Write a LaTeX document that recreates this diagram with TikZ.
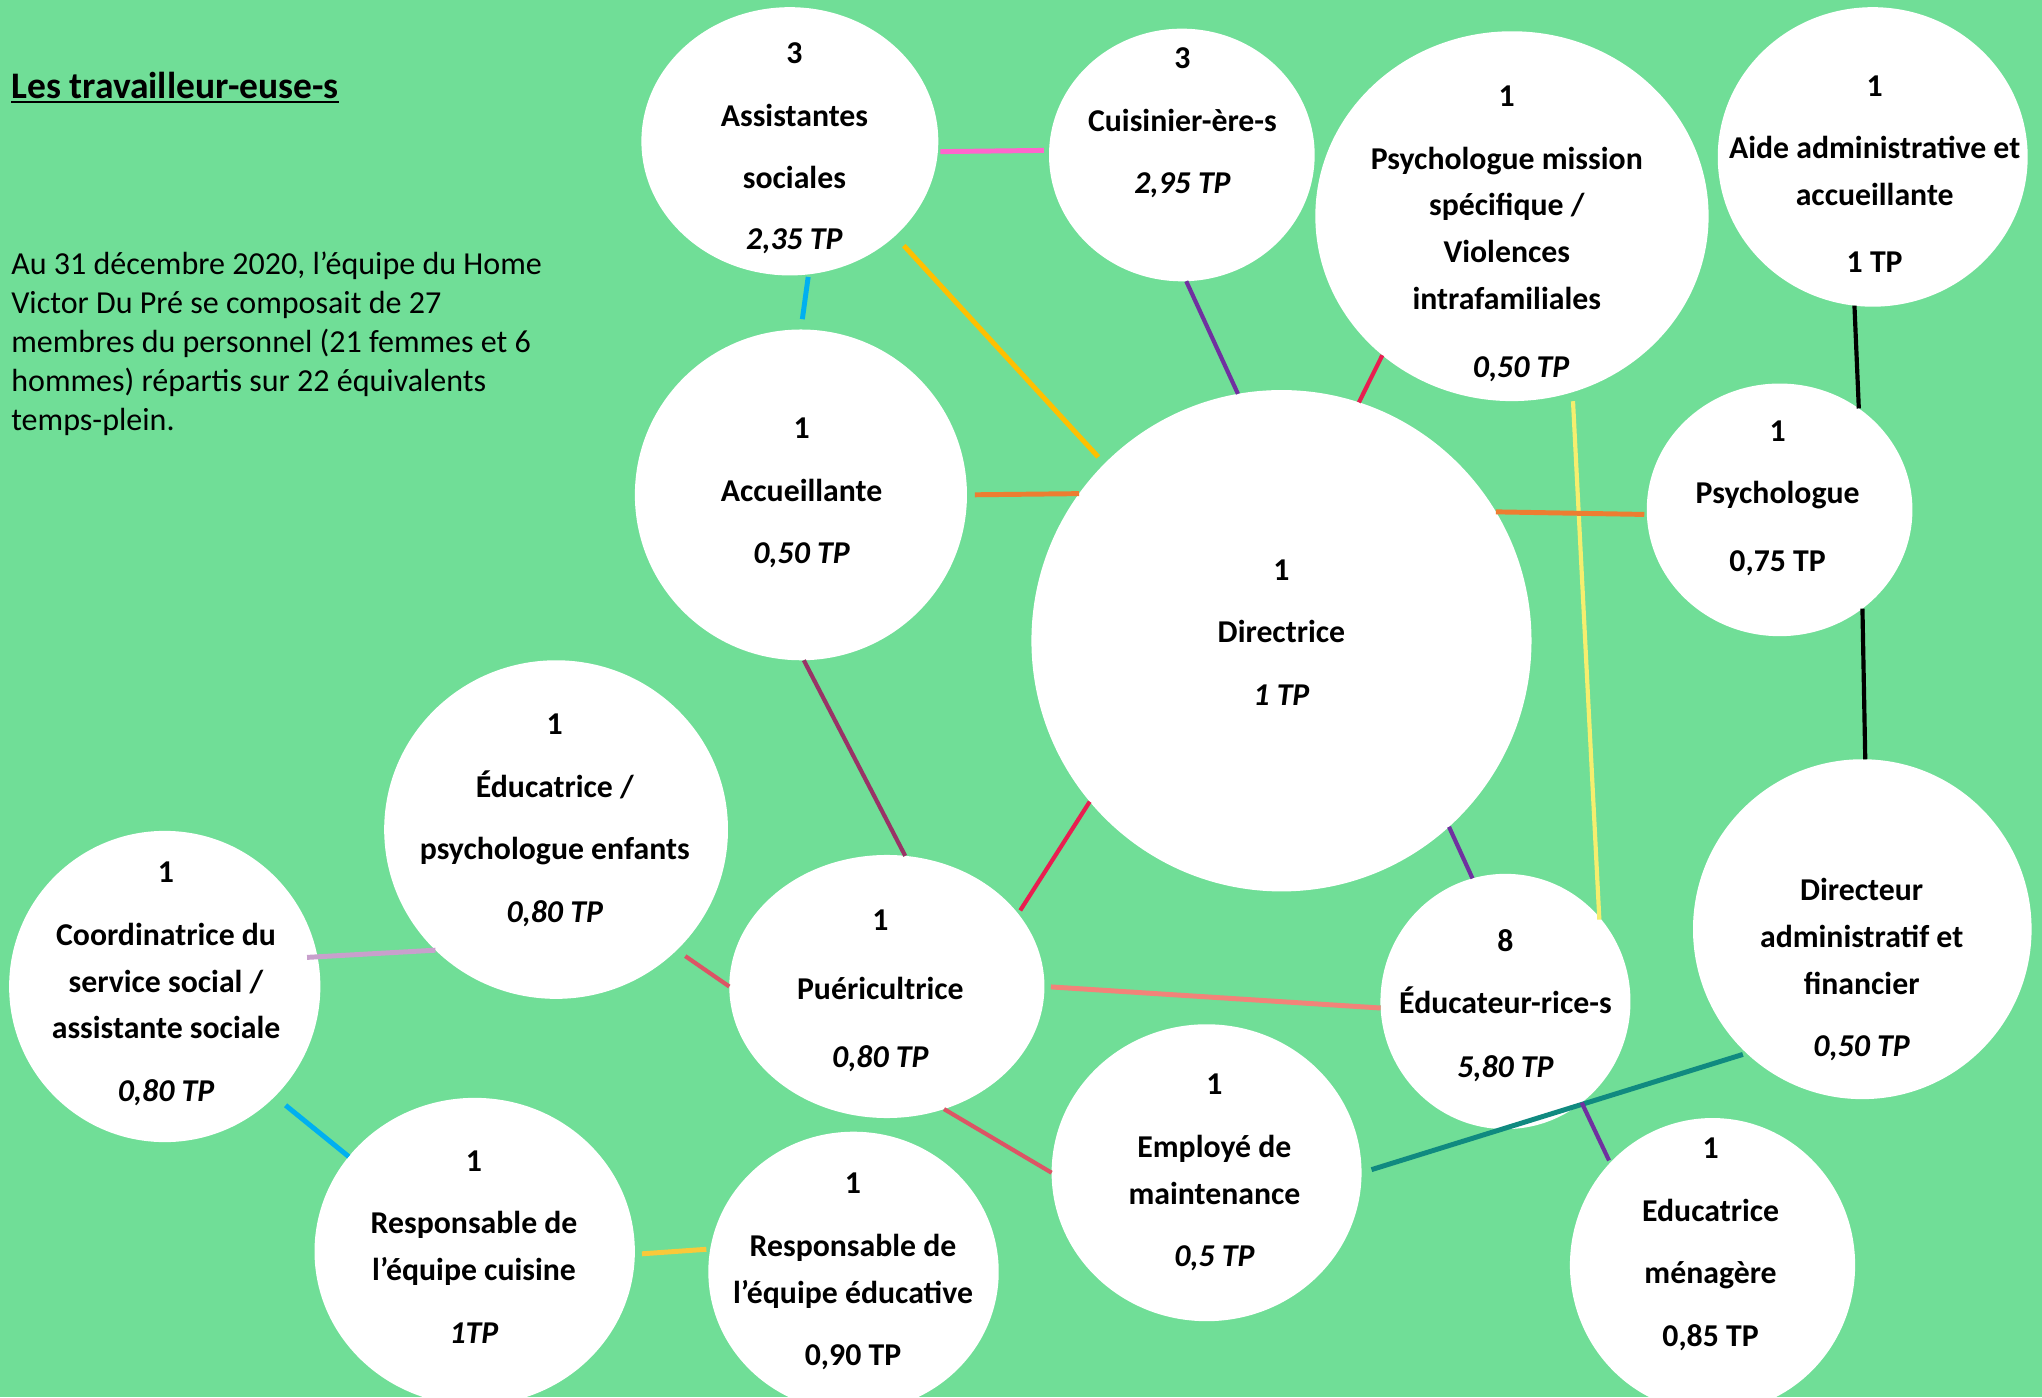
\documentclass[tikz,border=0pt]{standalone}
\usepackage{fontspec}
\setmainfont{Carlito}
\usetikzlibrary{shapes.geometric}

\definecolor{fond}{HTML}{70DE97}
\definecolor{rose}{HTML}{FF66CC}
\definecolor{bleu}{HTML}{00B0F0}
\definecolor{dore}{HTML}{FFC000}
\definecolor{dore2}{HTML}{F9C93A}
\definecolor{violet}{HTML}{7030A0}
\definecolor{cramoisi}{HTML}{E91E50}
\definecolor{orangef}{HTML}{ED7D31}
\definecolor{jaunepale}{HTML}{F5EE6E}
\definecolor{prune}{HTML}{993366}
\definecolor{saumon}{HTML}{F28379}
\definecolor{rouge}{HTML}{DC5565}
\definecolor{lilas}{HTML}{C8A0CC}
\definecolor{sarcelle}{HTML}{108A80}

\begin{document}
\begin{tikzpicture}[x=1pt, y=-1pt,
    bulle/.style = {ellipse, fill=white, inner sep=0pt, outer sep=0pt},
    texte/.style = {align=center, inner sep=0pt, yshift=-2.5pt, font=\fontsize{24.4}{36}\selectfont\bfseries},
    lien/.style = {line width=3.8pt},
    fin/.style = {line width=3.2pt}]
\fill[fond] (0,0) rectangle (1568,1073);
\useasboundingbox (0,0) rectangle (1568,1073);

% titre et texte
\node[anchor=base west, inner sep=0pt, font=\fontsize{28.8}{34}\selectfont\bfseries] (titre) at (8.5,75.5) {Les travailleur-euse-s};
\draw[line width=1.8pt] ([yshift=-3pt]titre.base west) -- ([yshift=-3pt]titre.base east);
\node[anchor=west, align=left, inner sep=0pt, font=\fontsize{24.6}{30}\selectfont] (intro) at (8.5,264) {Au 31 décembre 2020, l’équipe du Home\\Victor Du Pré se composait de 27\\membres du personnel (21 femmes et 6\\hommes) répartis sur 22 équivalents\\temps-plein.};

% bulles
\node[bulle, minimum width=228pt, minimum height=206pt] (as) at (606.5,108.5) {};
\node[texte] (as-t) at (610,111.5) {3\\[12pt]Assistantes\\[12pt]sociales\\[11pt]\textit{2,35 TP}};
\node[bulle, minimum width=204pt, minimum height=194pt] (cu) at (907.5,119) {};
\node[texte] (cu-t) at (908,92) {3\\[12pt]Cuisinier-ère-s\\[12pt]\textit{2,95 TP}};
\node[bulle, minimum width=302pt, minimum height=284pt] (pm) at (1161,166) {};
\node[texte] (pm-t) at (1157,177) {1\\[12pt]Psychologue mission\\spécifique /\\Violences\\intrafamiliales\\[16pt]\hspace*{22pt}\textit{0,50 TP}};
\node[bulle, minimum width=238pt, minimum height=230pt] (aa) at (1438,120.5) {};
\node[texte] (aa-t) at (1439.5,131.5) {1\\[11pt]Aide administrative et\\accueillante\\[16pt]1 TP};
\node[bulle, minimum width=255pt, minimum height=254pt] (ac) at (615,380) {};
\node[texte] (ac-t) at (615.5,376) {1\\[12pt]Accueillante\\[12pt]\textit{0,50 TP}};
\node[bulle, minimum width=384pt, minimum height=385pt] (di) at (984,492) {};
\node[texte] (di-t) at (984,483) {1\\[12pt]Directrice\\[12pt]\textit{1 TP}};
\node[bulle, minimum width=204pt, minimum height=194pt] (ps) at (1366.5,391.5) {};
\node[texte] (ps-t) at (1365,380) {1\\[12pt]Psychologue\\[16pt]0,75 TP};
\node[bulle, minimum width=264pt, minimum height=260pt] (ep) at (427,637) {};
\node[texte] (ep-t) at (426,627.5) {1\\[12pt]Éducatrice /\\[12pt]psychologue enfants\\[12pt]\textit{0,80 TP}};
\node[bulle, minimum width=239pt, minimum height=239pt] (co) at (126.5,757.5) {};
\node[texte] (co-t) at (127.5,753) {1\\[12pt]Coordinatrice du\\service social /\\assistante sociale\\[12pt]\textit{0,80 TP}};
\node[bulle, minimum width=242pt, minimum height=202pt] (pu) at (681,757.5) {};
\node[texte] (pu-t) at (676,758.5) {1\\[17pt]Puéricultrice\\[16pt]\textit{0,80 TP}};
\node[bulle, minimum width=192pt, minimum height=196pt] (ed) at (1156,769) {};
\node[texte] (ed-t) at (1156,769.5) {8\\[12pt]Éducateur-rice-s\\[13pt]\textit{5,80 TP}};
\node[bulle, minimum width=260pt, minimum height=261pt] (da) at (1430,713.5) {};
\node[texte] (da-t) at (1429.5,742) {Directeur\\administratif et\\financier\\[12pt]\textit{0,50 TP}};
\node[bulle, minimum width=246pt, minimum height=236pt] (rc) at (364.5,961) {};
\node[texte] (rc-t) at (364,955) {1\\[12pt]Responsable de\\l’équipe cuisine\\[12pt]\textit{1TP}};
\node[bulle, minimum width=223pt, minimum height=215pt] (re) at (655.4,976.5) {};
\node[texte] (re-t) at (655,974) {1\\[12pt]Responsable de\\l’équipe éducative\\[12pt]0,90 TP};
\node[bulle, minimum width=238pt, minimum height=228pt] (em) at (926.5,900.5) {};
\node[texte] (em-t) at (932.5,898) {1\\[12pt]Employé de\\maintenance\\[12pt]\textit{0,5 TP}};
\node[bulle, minimum width=219pt, minimum height=226pt] (me) at (1315,971.5) {};
\node[texte] (me-t) at (1313.5,953) {1\\[12pt]Educatrice\\[12pt]ménagère\\[12pt]0,85 TP};

% liens
\draw[lien, rose, shorten <=2pt, shorten >=4pt] (as.-4.5) -- (cu.178.2);
\draw[lien, bleu, shorten <=2pt, shorten >=8pt] (as.-82.5) -- (ac.90);
\draw[lien, dore, shorten <=10pt, shorten >=7pt] (as.-42) -- (di.135.2);
\draw[fin, violet] (cu.-88.7) -- (di.100.3);
\draw[fin, cramoisi] (pm.227.9) -- (di.72.7);
\draw[fin, jaunepale, shorten <=7pt, shorten >=-2pt] (pm.-71.9) -- (ed.42.7);
\draw[fin, black] (aa.263.2) -- (ps.52.4);
\draw[fin, black] (ps.-50.9) -- (da.89.4);
\draw[lien, orangef, shorten <=6pt] (ac.0.6) -- (di.144.7);
\draw[lien, orangef, shorten >=2pt] (di.31.75) -- (ps.182.2);
\draw[fin, violet] (di.-48.6) -- (ed.105.75);
\draw[fin, prune] (ac.-89.7) -- (pu.82.8);
\draw[fin, cramoisi, shorten >=3pt] (di.220.5) -- (pu.29.25);
\draw[lien, saumon, shorten <=5pt] (pu.-0.9) -- (ed.183.45);
\draw[fin, rouge, shorten <=8pt] (ep.-45.5) -- (pu.180);
\draw[lien, lilas, shorten <=-8pt] (co.11.7) -- (ep.225.1);
\draw[lien, bleu, shorten <=10.7pt] (co.-45.25) -- (rc.143.7);
\draw[lien, dore2, shorten <=5.5pt, shorten >=3pt] (rc.-1.9) -- (re.171.3);
\draw[fin, rouge] (pu.-65.7) -- (em.180.2);
\draw[lien, sarcelle, shorten <=8pt, shorten >=3pt] (em.-0.2) -- (da.227.8);
\draw[fin, violet, shorten >=2pt] (ed.-53.6) -- (me.135.8);
\end{tikzpicture}
\end{document}
